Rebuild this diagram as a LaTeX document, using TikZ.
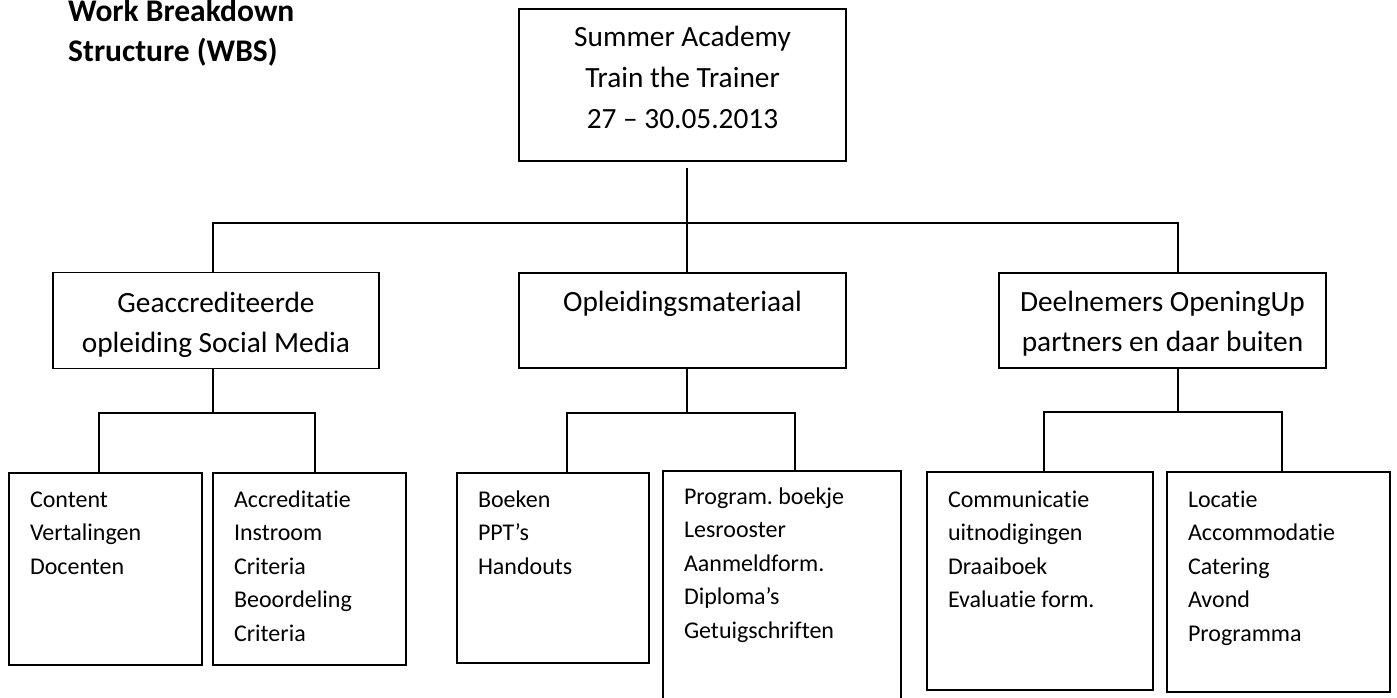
\documentclass[tikz,border=0pt]{standalone}
\usepackage{fontspec}
\setmainfont{Carlito}[RawFeature={-liga;-clig;-calt;-dlig}]
\usepackage{tikz}
\usetikzlibrary{positioning}
\frenchspacing

\begin{document}
\begin{tikzpicture}[x=1pt, y=-1pt,
  box/.style={draw, line width=1.8pt, outer sep=0pt, inner sep=0pt},
  mainbox/.style={box, align=flush center, font=\fontsize{29.33}{40}\selectfont},
  leaf/.style={box, align=flush left, inner xsep=21pt, font=\fontsize{24}{33.5}\selectfont},
  link/.style={line width=1.8pt},
]
  \useasboundingbox (0,0) rectangle (1397,698);
  \fill[white] (0,0) rectangle (1397,698);

  \node[anchor=base west, align=flush left, inner sep=0pt, text width=300pt,
    font=\bfseries\fontsize{31.5}{40}\selectfont] (title) at (68,22)
    {Work Breakdown\\Structure (WBS)};

  % top of the tree
  \node[mainbox, anchor=north west, text width=327pt, text height=38pt, text depth=114pt, font=\fontsize{29.33}{40.8}\selectfont]
    at (519,9) (root) {Summer Academy\\Train the Trainer\\27 – 30.05.2013};

  % second level
  \node[mainbox, text width=327pt, text height=38.7pt, text depth=56.3pt, below=112pt of root]
    (opl) {Opleidingsmateriaal};
  \node[mainbox, text width=326pt, text height=39.5pt, text depth=56.5pt, left=140pt of opl]
    (geac) {Geaccrediteerde\\opleiding Social Media};
  \node[mainbox, text width=327pt, text height=38.5pt, text depth=56.5pt, right=153pt of opl]
    (deel) {Deelnemers OpeningUp\\partners en daar buiten};

  % third level
  \node[leaf, anchor=north west, text width=151pt, text height=34pt, text depth=158pt]
    at (9,473) (content) {Content\\Vertalingen\\Docenten};
  \node[leaf, text width=151pt, text height=34pt, text depth=158pt, right=11pt of content]
    (accr) {Accreditatie\\Instroom\\Criteria\\Beoordeling\\Criteria};
  \node[leaf, anchor=north west, text width=150pt, text height=34pt, text depth=156pt]
    at (457,473) (boeken) {Boeken\\PPT’s\\Handouts};
  \node[leaf, anchor=north west, text width=196pt, text height=33pt, text depth=220pt]
    at (663,471) (program) {Program. boekje\\Lesrooster\\Aanmeldform.\\Diploma’s\\Getuigschriften};
  \node[leaf, anchor=north west, text width=184pt, text height=35pt, text depth=183pt]
    at (927,472) (comm) {Communicatie\\uitnodigingen\\Draaiboek\\Evaluatie form.};
  \node[leaf, text width=181pt, text height=35pt, text depth=185pt, right=14pt of comm.north east, anchor=north west]
    (loc) {Locatie\\Accommodatie\\Catering\\Avond\\Programma};

  % connectors
  \coordinate (r0) at (687,223);
  \coordinate (rl) at (213,223);
  \coordinate (rr) at (1178,223);
  \draw[link] (root.south -| r0) ++(0,7) -- (opl.north -| r0);
  \draw[link] (geac.north -| rl) -- (rl) -- (rr) -- (deel.north -| rr);

  \coordinate (g0) at (213,413);
  \coordinate (gl) at (99,413);
  \coordinate (gr) at (315,413);
  \draw[link] (geac.south -| g0) -- (g0);
  \draw[link] (content.north -| gl) -- (gl) -- (gr) -- (accr.north -| gr);

  \coordinate (o0) at (687,413);
  \coordinate (ol) at (567,413);
  \coordinate (or) at (795,413);
  \draw[link] (opl.south -| o0) -- (o0);
  \draw[link] (boeken.north -| ol) -- (ol) -- (or) -- (program.north -| or);

  \coordinate (d0) at (1178,412);
  \coordinate (dl) at (1044,412);
  \coordinate (dr) at (1282,412);
  \draw[link] (deel.south -| d0) -- (d0);
  \draw[link] (comm.north -| dl) -- (dl) -- (dr) -- (loc.north -| dr);
\end{tikzpicture}
\end{document}
